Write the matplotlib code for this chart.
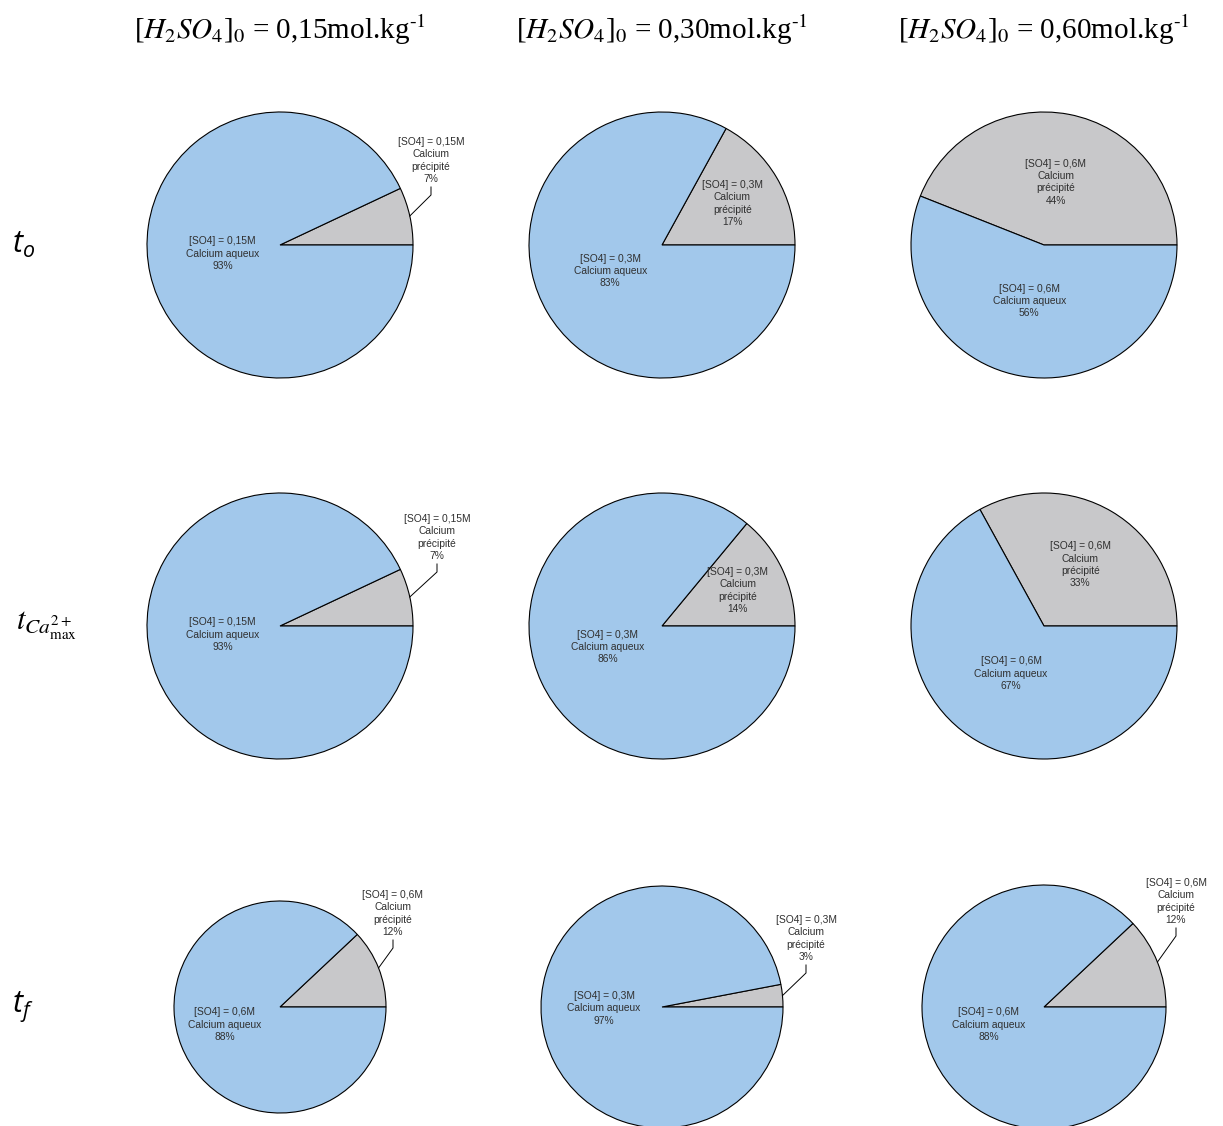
import numpy as np
import matplotlib
matplotlib.use("Agg")
import matplotlib.pyplot as plt

# data
conc_heads = ["0,15", "0,30", "0,60"]
row_labels = [r"$t_o$", r"$t_{Ca^{2+}_{\max}}$", r"$t_f$"]
precip_pct = [[7, 17, 44],
              [7, 14, 33],
              [12, 3, 12]]
so4_tags = [["0,15M", "0,3M", "0,6M"],
            ["0,15M", "0,3M", "0,6M"],
            ["0,6M", "0,3M", "0,6M"]]

W, H = 1223, 1126
BLUE = "#A2C8EB"
GRAY = "#C8C8CA"

# layout (pixels)
col_x = [280, 662, 1044]
row_y = [245, 626, 1007]
radii = [[133, 133, 133], [133, 133, 133], [106, 121, 122]]
# leader anchor for small wedges (dx, dy from centre, px)
leader = {(0, 0): (151, 50), (1, 0): (157, 54), (2, 0): (113, 59),
          (2, 1): (144, 34), (2, 2): (132, 71)}

fig = plt.figure(figsize=(W / 100, H / 100), dpi=100)
lab_kw = dict(fontsize=7.4, family="Liberation Sans", ha="center",
              linespacing=1.3, color="#303030")

for i in range(3):
    for j in range(3):
        cx, cy, r = col_x[j], row_y[i], radii[i][j]
        ax = fig.add_axes([(cx - r) / W, 1 - (cy + r) / H, 2 * r / W, 2 * r / H])
        p = precip_pct[i][j]
        ax.pie([p, 100 - p], colors=[GRAY, BLUE], startangle=0, counterclock=True,
               radius=r, wedgeprops=dict(edgecolor="black", linewidth=0.8))
        ax.set_xlim(-r, r)
        ax.set_ylim(-r, r)
        ax.set_aspect("equal")
        ax.axis("off")

        g_mid = np.deg2rad(p * 3.6 / 2)
        b_mid = np.deg2rad((p * 3.6 + 360) / 2 - 4)
        tag = so4_tags[i][j]

        # aqueous label
        d = 58
        ax.text(d * np.cos(b_mid), d * np.sin(b_mid),
                f"[SO4] = {tag}\nCalcium aqueux\n{100 - p}%",
                va="center", clip_on=False, **lab_kw)

        txt = f"[SO4] = {tag}\nCalcium\nprécipité\n{p}%"
        if (i, j) in leader:
            lx, ly = leader[(i, j)]
            ex, ey = r * np.cos(g_mid), r * np.sin(g_mid)
            ax.plot([ex, lx, lx], [ey, ly, ly + 8], color="black", lw=0.7,
                    clip_on=False)
            ax.text(lx, ly + 11, txt, va="bottom", clip_on=False, **lab_kw)
        else:
            d = r * (0.7 - 0.5 * p / 100)
            ax.text(d * np.cos(g_mid), d * np.sin(g_mid), txt,
                    va="center", clip_on=False, **lab_kw)

# column headers
for j, c in enumerate(conc_heads):
    fig.text(col_x[j] / W, 1 - 30 / H,
             r"[$H_2SO_4$]$_0$ = " + c + r"mol.kg$^{\text{-1}}$",
             fontsize=21, family="Liberation Serif", math_fontfamily="stix",
             ha="center", va="center")

# row labels
plt.rcParams["mathtext.fontset"] = "custom"
plt.rcParams["mathtext.it"] = "Open Sans:italic"
plt.rcParams["mathtext.rm"] = "Open Sans"
fig.text(12 / W, 1 - 245 / H, row_labels[0], fontsize=22, math_fontfamily="custom",
         ha="left", va="center")
fig.text(16 / W, 1 - 626 / H, row_labels[1], fontsize=22, math_fontfamily="stix",
         ha="left", va="center")
fig.text(12 / W, 1 - 1007 / H, row_labels[2], fontsize=22, math_fontfamily="custom",
         ha="left", va="center")

fig.savefig("out.png", dpi=100)
